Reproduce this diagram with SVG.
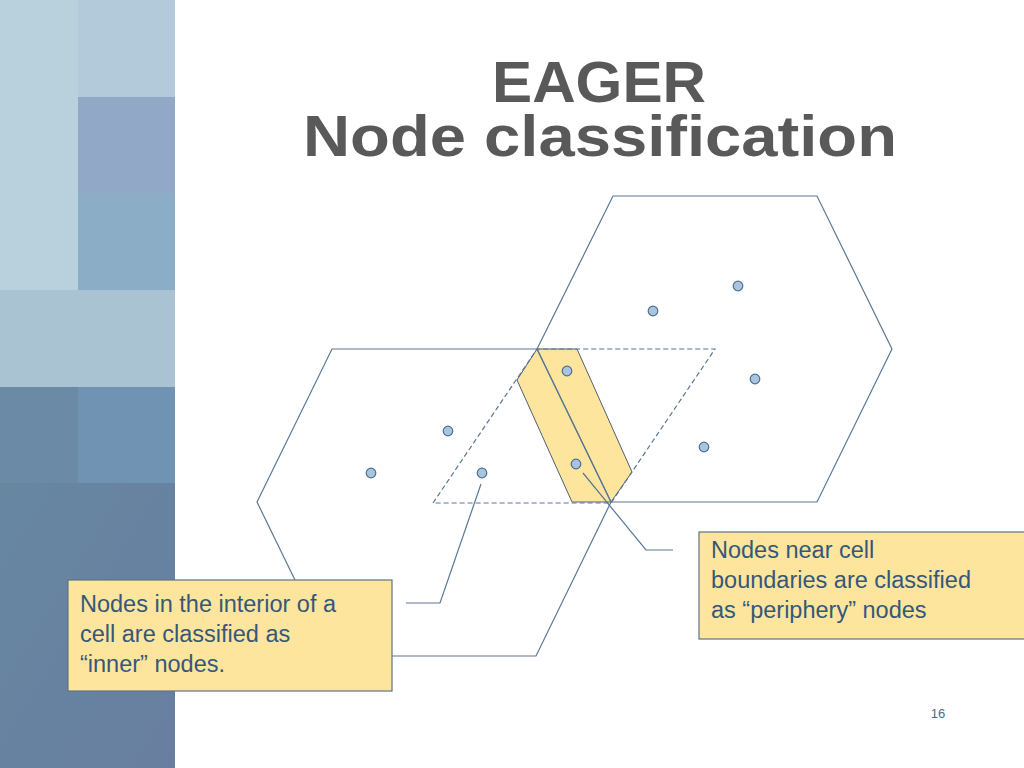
<svg xmlns="http://www.w3.org/2000/svg" width="1024" height="768" viewBox="0 0 1024 768">
<style>
.cell{fill:none;stroke:#5a7795;stroke-width:1.2}
.dash{fill:none;stroke:#5a7795;stroke-width:1.2;stroke-dasharray:5,3}
.dot{fill:#a9c4df;stroke:#4f6f8f;stroke-width:1.2}
.box{fill:#fde59d;stroke:#5e7384;stroke-width:1.2}
.lbl{font-family:"Liberation Sans",Arial,sans-serif;font-size:23.5px;fill:#35587a}
.title{font-family:"Liberation Sans",Arial,sans-serif;font-weight:bold;fill:#595959;font-size:57px}
.conn{fill:none;stroke:#5a7795;stroke-width:1.2}
</style>
<defs>
<linearGradient id="bot" x1="0" y1="0" x2="1" y2="1">
<stop offset="0" stop-color="#6787a1"/>
<stop offset="1" stop-color="#687ea0"/>
</linearGradient>
</defs>
<rect width="1024" height="768" fill="#ffffff"/>
<g id="sidebar">
<rect x="0" y="0" width="78" height="290" fill="#b9d0dd"/>
<rect x="78" y="0" width="97" height="97" fill="#b2cad9"/>
<rect x="78" y="97" width="97" height="96" fill="#91a9c7"/>
<rect x="78" y="193" width="97" height="97" fill="#8badc6"/>
<rect x="0" y="290" width="175" height="97" fill="#a9c3d3"/>
<rect x="0" y="387" width="78" height="96" fill="#6a8aa5"/>
<rect x="78" y="387" width="97" height="96" fill="#7092b3"/>
<rect x="0" y="483" width="175" height="285" fill="url(#bot)"/>
</g>
<g id="title">
<text class="title"><tspan x="492" y="102" textLength="214" lengthAdjust="spacingAndGlyphs">EAGER</tspan><tspan x="303" y="156" textLength="594" lengthAdjust="spacingAndGlyphs">Node classification</tspan></text>
</g>
<g id="band">
<polygon points="537,349 577,349 632,472 611,502 572,502 517,380" fill="#fde59d" stroke="#4f6070" stroke-width="1"/>
</g>
<g id="cells">
<polyline class="cell" points="332,656 257,502 332,349 537,349 611,502 536,656 392,656"/>
<polygon class="cell" points="613,196 817,196 892,349 817,502 611,502 537,349"/>
<polygon class="dash" points="433,503 537,349 715,349 611,503"/>
</g>
<g id="connectors">
<polyline class="conn" points="406,603 440,603 481,484"/>
<polyline class="conn" points="583,473 646,550 673,550"/>
</g>
<g id="nodes">
<circle class="dot" cx="738" cy="286" r="4.8"/>
<circle class="dot" cx="653" cy="311" r="4.8"/>
<circle class="dot" cx="567" cy="371" r="4.8"/>
<circle class="dot" cx="755" cy="379" r="4.8"/>
<circle class="dot" cx="448" cy="431" r="4.8"/>
<circle class="dot" cx="371" cy="473" r="4.8"/>
<circle class="dot" cx="482" cy="473" r="4.8"/>
<circle class="dot" cx="576" cy="464" r="4.8"/>
<circle class="dot" cx="704" cy="447" r="4.8"/>
</g>
<g id="inner-note">
<rect class="box" x="68" y="580" width="324" height="111"/>
<text class="lbl" x="80" y="612">Nodes in the interior of a</text>
<text class="lbl" x="80" y="642">cell are classified as</text>
<text class="lbl" x="80" y="672">“inner” nodes.</text>
</g>
<g id="periphery-note">
<rect class="box" x="699" y="532" width="335" height="107"/>
<text class="lbl" x="711" y="558">Nodes near cell</text>
<text class="lbl" x="711" y="588">boundaries are classified</text>
<text class="lbl" x="711" y="618">as “periphery” nodes</text>
</g>
<text x="938" y="718" font-family="Liberation Sans,Arial,sans-serif" font-size="13" fill="#4a6a8a" text-anchor="middle">16</text>
</svg>
